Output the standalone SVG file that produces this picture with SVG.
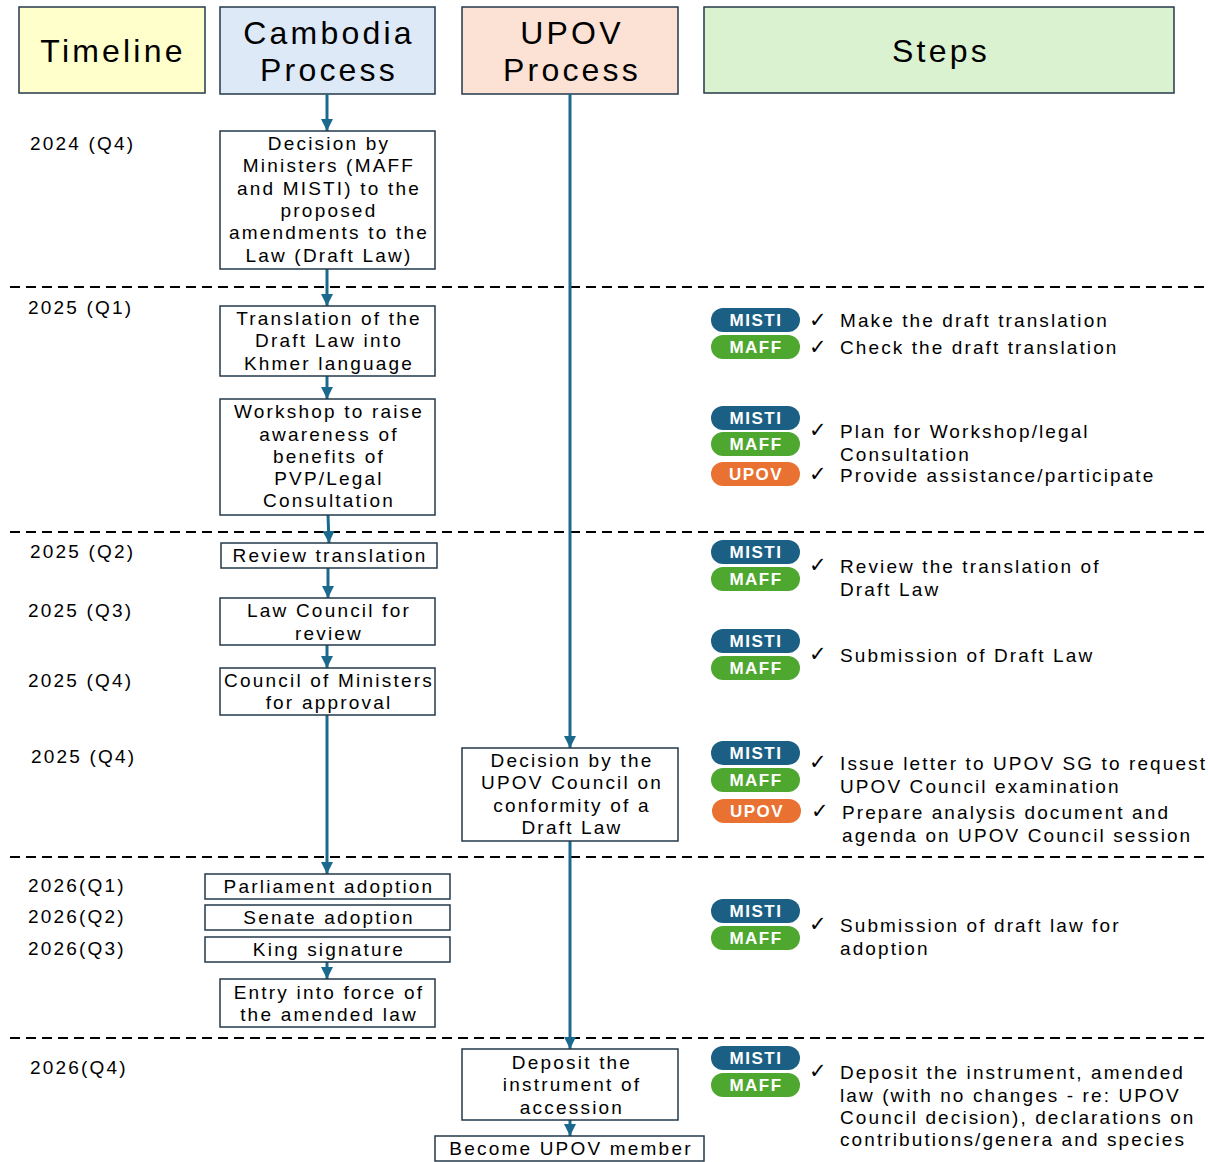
<svg xmlns="http://www.w3.org/2000/svg" width="1208" height="1162" viewBox="0 0 1208 1162">
<style>
.hdr{stroke:#25384a;stroke-width:1.5}
.box{fill:#fff;stroke:#25384a;stroke-width:1.5}
.ht{font-family:"Liberation Sans",Arial,sans-serif;font-size:32px;letter-spacing:3.2px;fill:#000;text-anchor:middle}
.nt{font-family:"Liberation Sans",Arial,sans-serif;font-size:19px;letter-spacing:2.2px;fill:#000;text-anchor:middle}
.tl{font-family:"Liberation Sans",Arial,sans-serif;font-size:19px;letter-spacing:2.2px;fill:#000}
.st{font-family:"Liberation Sans",Arial,sans-serif;font-size:19px;letter-spacing:2.1px;fill:#000}
.ck{font-family:"DejaVu Sans",sans-serif;font-size:21px;fill:#000}
.bt{font-family:"Liberation Sans",Arial,sans-serif;font-size:17px;font-weight:bold;letter-spacing:1.5px;fill:#fff;text-anchor:middle}
.misti{fill:#1c5f84}
.maff{fill:#4ea72e}
.upov{fill:#e97132}
.dash{stroke:#000;stroke-width:2;stroke-dasharray:10 6;fill:none}
.conn{stroke:#1b6a8e;stroke-width:3;fill:none}
</style>
<defs>
<marker id="arr" markerUnits="userSpaceOnUse" markerWidth="12" markerHeight="12" viewBox="0 0 12 12" refX="12" refY="6" orient="auto">
<path d="M0,0 L12,6 L0,12 Z" fill="#1b6a8e"/>
</marker>
</defs>

<!-- dashed separators -->
<g id="separators">
<line class="dash" x1="10" y1="287" x2="1208" y2="287"/>
<line class="dash" x1="10" y1="532" x2="1208" y2="532"/>
<line class="dash" x1="10" y1="857" x2="1208" y2="857"/>
<line class="dash" x1="10" y1="1038" x2="1208" y2="1038"/>
</g>

<!-- headers -->
<g id="hdr-timeline">
<rect class="hdr" x="19" y="7" width="186" height="86" fill="#ffffcc"/>
<text class="ht" x="113" y="62">Timeline</text>
</g>
<g id="hdr-cambodia">
<rect class="hdr" x="220" y="7" width="215" height="87" fill="#dde9f6"/>
<text class="ht" x="329" y="44">Cambodia</text>
<text class="ht" x="329" y="81">Process</text>
</g>
<g id="hdr-upov">
<rect class="hdr" x="462" y="7" width="216" height="87" fill="#fbe2d5"/>
<text class="ht" x="572" y="44">UPOV</text>
<text class="ht" x="572" y="81">Process</text>
</g>
<g id="hdr-steps">
<rect class="hdr" x="704" y="7" width="470" height="86" fill="#dbf2d0"/>
<text class="ht" x="941" y="62">Steps</text>
</g>

<!-- timeline labels -->
<g id="timeline-labels">
<text class="tl" x="30" y="150">2024 (Q4)</text>
<text class="tl" x="28" y="314">2025 (Q1)</text>
<text class="tl" x="30" y="558">2025 (Q2)</text>
<text class="tl" x="28" y="617">2025 (Q3)</text>
<text class="tl" x="28" y="687">2025 (Q4)</text>
<text class="tl" x="31" y="763">2025 (Q4)</text>
<text class="tl" x="28" y="892">2026(Q1)</text>
<text class="tl" x="28" y="923">2026(Q2)</text>
<text class="tl" x="28" y="955">2026(Q3)</text>
<text class="tl" x="30" y="1074">2026(Q4)</text>
</g>

<!-- connectors -->
<g id="connectors">
<line class="conn" x1="327" y1="94" x2="327" y2="131" marker-end="url(#arr)"/>
<line class="conn" x1="327" y1="269" x2="327" y2="306" marker-end="url(#arr)"/>
<line class="conn" x1="327" y1="376" x2="327" y2="399" marker-end="url(#arr)"/>
<line class="conn" x1="328" y1="515" x2="329" y2="543" marker-end="url(#arr)"/>
<line class="conn" x1="328" y1="562" x2="328" y2="598" marker-end="url(#arr)"/>
<line class="conn" x1="327" y1="645" x2="327" y2="668" marker-end="url(#arr)"/>
<line class="conn" x1="327" y1="715" x2="327" y2="874" marker-end="url(#arr)"/>
<line class="conn" x1="327" y1="962" x2="327" y2="979" marker-end="url(#arr)"/>
<line class="conn" x1="570" y1="94" x2="570" y2="748" marker-end="url(#arr)"/>
<line class="conn" x1="570" y1="841" x2="570" y2="1049" marker-end="url(#arr)"/>
<line class="conn" x1="570" y1="1120" x2="570" y2="1136" marker-end="url(#arr)"/>
</g>

<!-- Cambodia process nodes -->
<g id="n-decision-ministers">
<rect class="box" x="220" y="131" width="215" height="138"/>
<text class="nt" x="329" y="150">Decision by</text>
<text class="nt" x="329" y="172">Ministers (MAFF</text>
<text class="nt" x="329" y="195">and MISTI) to the</text>
<text class="nt" x="329" y="217">proposed</text>
<text class="nt" x="329" y="239">amendments to the</text>
<text class="nt" x="329" y="262">Law (Draft Law)</text>
</g>
<g id="n-translation">
<rect class="box" x="220" y="306" width="215" height="70"/>
<text class="nt" x="329" y="325">Translation of the</text>
<text class="nt" x="329" y="347">Draft Law into</text>
<text class="nt" x="329" y="370">Khmer language</text>
</g>
<g id="n-workshop">
<rect class="box" x="220" y="399" width="215" height="116"/>
<text class="nt" x="329" y="418">Workshop to raise</text>
<text class="nt" x="329" y="441">awareness of</text>
<text class="nt" x="329" y="463">benefits of</text>
<text class="nt" x="329" y="485">PVP/Legal</text>
<text class="nt" x="329" y="507">Consultation</text>
</g>
<g id="n-review">
<rect class="box" x="221" y="543" width="216" height="25"/>
<text class="nt" x="330" y="562">Review translation</text>
</g>
<g id="n-law-council">
<rect class="box" x="220" y="598" width="215" height="47"/>
<text class="nt" x="329" y="617">Law Council for</text>
<text class="nt" x="329" y="640">review</text>
</g>
<g id="n-council-ministers">
<rect class="box" x="220" y="668" width="215" height="47"/>
<text class="nt" x="329" y="687">Council of Ministers</text>
<text class="nt" x="329" y="709">for approval</text>
</g>
<g id="n-parliament">
<rect class="box" x="205" y="874" width="245" height="25"/>
<text class="nt" x="329" y="893">Parliament adoption</text>
</g>
<g id="n-senate">
<rect class="box" x="205" y="905" width="245" height="25"/>
<text class="nt" x="329" y="924">Senate adoption</text>
</g>
<g id="n-king">
<rect class="box" x="205" y="937" width="245" height="25"/>
<text class="nt" x="329" y="956">King signature</text>
</g>
<g id="n-entry">
<rect class="box" x="220" y="979" width="215" height="48"/>
<text class="nt" x="329" y="999">Entry into force of</text>
<text class="nt" x="329" y="1021">the amended law</text>
</g>

<!-- UPOV process nodes -->
<g id="n-upov-decision">
<rect class="box" x="462" y="748" width="216" height="93"/>
<text class="nt" x="572" y="767">Decision by the</text>
<text class="nt" x="572" y="789">UPOV Council on</text>
<text class="nt" x="572" y="812">conformity of a</text>
<text class="nt" x="572" y="834">Draft Law</text>
</g>
<g id="n-deposit">
<rect class="box" x="462" y="1049" width="216" height="71"/>
<text class="nt" x="572" y="1069">Deposit the</text>
<text class="nt" x="572" y="1091">instrument of</text>
<text class="nt" x="572" y="1114">accession</text>
</g>
<g id="n-member">
<rect class="box" x="435" y="1136" width="269" height="25"/>
<text class="nt" x="571" y="1155">Become UPOV member</text>
</g>

<!-- Steps -->
<g id="step-1">
<rect class="misti" x="711" y="308" width="89" height="24" rx="12"/>
<text class="bt" x="756" y="326">MISTI</text>
<rect class="maff" x="711" y="335" width="89" height="24" rx="12"/>
<text class="bt" x="756" y="353">MAFF</text>
<text class="ck" x="809" y="327">✓</text>
<text class="st" x="840" y="327">Make the draft translation</text>
<text class="ck" x="809" y="354">✓</text>
<text class="st" x="840" y="354">Check the draft translation</text>
</g>
<g id="step-2">
<rect class="misti" x="711" y="406" width="89" height="24" rx="12"/>
<text class="bt" x="756" y="424">MISTI</text>
<rect class="maff" x="711" y="432" width="89" height="24" rx="12"/>
<text class="bt" x="756" y="450">MAFF</text>
<rect class="upov" x="711" y="462" width="89" height="24" rx="12"/>
<text class="bt" x="756" y="480">UPOV</text>
<text class="ck" x="809" y="437">✓</text>
<text class="st" x="840" y="438">Plan for Workshop/legal</text>
<text class="st" x="840" y="461">Consultation</text>
<text class="ck" x="809" y="481">✓</text>
<text class="st" x="840" y="482">Provide assistance/participate</text>
</g>
<g id="step-3">
<rect class="misti" x="711" y="540" width="89" height="24" rx="12"/>
<text class="bt" x="756" y="558">MISTI</text>
<rect class="maff" x="711" y="567" width="89" height="24" rx="12"/>
<text class="bt" x="756" y="585">MAFF</text>
<text class="ck" x="809" y="572">✓</text>
<text class="st" x="840" y="573">Review the translation of</text>
<text class="st" x="840" y="596">Draft Law</text>
</g>
<g id="step-4">
<rect class="misti" x="711" y="629" width="89" height="24" rx="12"/>
<text class="bt" x="756" y="647">MISTI</text>
<rect class="maff" x="711" y="656" width="89" height="24" rx="12"/>
<text class="bt" x="756" y="674">MAFF</text>
<text class="ck" x="809" y="661">✓</text>
<text class="st" x="840" y="662">Submission of Draft Law</text>
</g>
<g id="step-5">
<rect class="misti" x="711" y="741" width="89" height="24" rx="12"/>
<text class="bt" x="756" y="759">MISTI</text>
<rect class="maff" x="711" y="768" width="89" height="24" rx="12"/>
<text class="bt" x="756" y="786">MAFF</text>
<rect class="upov" x="712" y="799" width="89" height="24" rx="12"/>
<text class="bt" x="757" y="817">UPOV</text>
<text class="ck" x="809" y="769">✓</text>
<text class="st" x="840" y="770">Issue letter to UPOV SG to request</text>
<text class="st" x="840" y="793">UPOV Council examination</text>
<text class="ck" x="811" y="818">✓</text>
<text class="st" x="842" y="819">Prepare analysis document and</text>
<text class="st" x="842" y="842">agenda on UPOV Council session</text>
</g>
<g id="step-6">
<rect class="misti" x="711" y="899" width="89" height="24" rx="12"/>
<text class="bt" x="756" y="917">MISTI</text>
<rect class="maff" x="711" y="926" width="89" height="24" rx="12"/>
<text class="bt" x="756" y="944">MAFF</text>
<text class="ck" x="809" y="931">✓</text>
<text class="st" x="840" y="932">Submission of draft  law for</text>
<text class="st" x="840" y="955">adoption</text>
</g>
<g id="step-7">
<rect class="misti" x="711" y="1046" width="89" height="24" rx="12"/>
<text class="bt" x="756" y="1064">MISTI</text>
<rect class="maff" x="711" y="1073" width="89" height="24" rx="12"/>
<text class="bt" x="756" y="1091">MAFF</text>
<text class="ck" x="809" y="1078">✓</text>
<text class="st" x="840" y="1079">Deposit the instrument, amended</text>
<text class="st" x="840" y="1102">law (with no changes - re: UPOV</text>
<text class="st" x="840" y="1124">Council decision), declarations on</text>
<text class="st" x="840" y="1146">contributions/genera and species</text>
</g>
</svg>
